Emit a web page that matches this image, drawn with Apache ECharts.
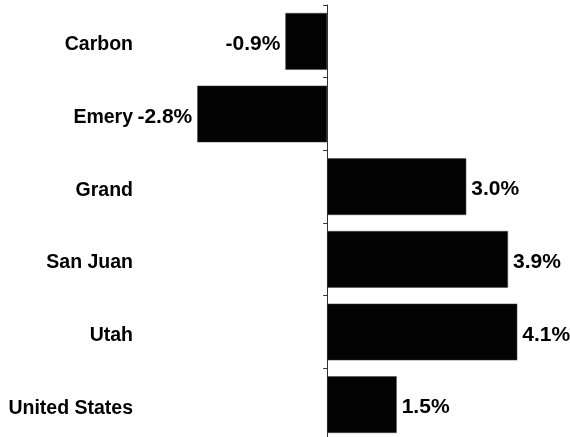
<!DOCTYPE html>
<html>
<head>
<meta charset="utf-8">
<script src="https://cdn.jsdelivr.net/npm/echarts@6/dist/echarts.min.js"></script>
<style>html,body{margin:0;padding:0;background:#fff}#c{width:570px;height:437px}</style>
</head>
<body>
<div id="c"></div>
<script>
var categories = ['Carbon', 'Emery', 'Grand', 'San Juan', 'Utah', 'United States'];
var values = [-0.9, -2.8, 3.0, 3.9, 4.1, 1.5];

var chart = echarts.init(document.getElementById('c'), null, {renderer: 'canvas'});
chart.setOption({
  animation: false,
  grid: {left: 188, right: 11, top: 5, height: 436, containLabel: false, outerBoundsMode: 'none'},
  xAxis: {
    type: 'value', min: -3, max: 5, show: false
  },
  yAxis: {
    type: 'category',
    data: categories,
    inverse: true,
    axisLine: {show: true, onZero: true, lineStyle: {color: '#333', width: 1}},
    axisTick: {show: true, length: 4, lineStyle: {color: '#333'}},
    axisLabel: {
      margin: 55,
      color: '#000',
      fontWeight: 'bold',
      fontSize: 19.5,
      fontFamily: "'Liberation Sans', Arial, sans-serif",
      lineHeight: 7,
      verticalAlign: 'top'
    },
    splitLine: {show: false}
  },
  series: [{
    type: 'bar',
    barCategoryGap: '22%',
    itemStyle: {color: '#030303', borderColor: '#444', borderWidth: 0.5},
    data: values.map(function (v) {
      return {
        value: v,
        label: {position: v < 0 ? 'left' : 'right'}
      };
    }),
    label: {
      show: true,
      distance: 5,
      color: '#000',
      fontWeight: 'bold',
      fontSize: 21,
      fontFamily: "'Liberation Sans', Arial, sans-serif",
      offset: [0, 3],
      formatter: function (p) { return p.value.toFixed(1) + '%'; }
    }
  }]
});
</script>
</body>
</html>
